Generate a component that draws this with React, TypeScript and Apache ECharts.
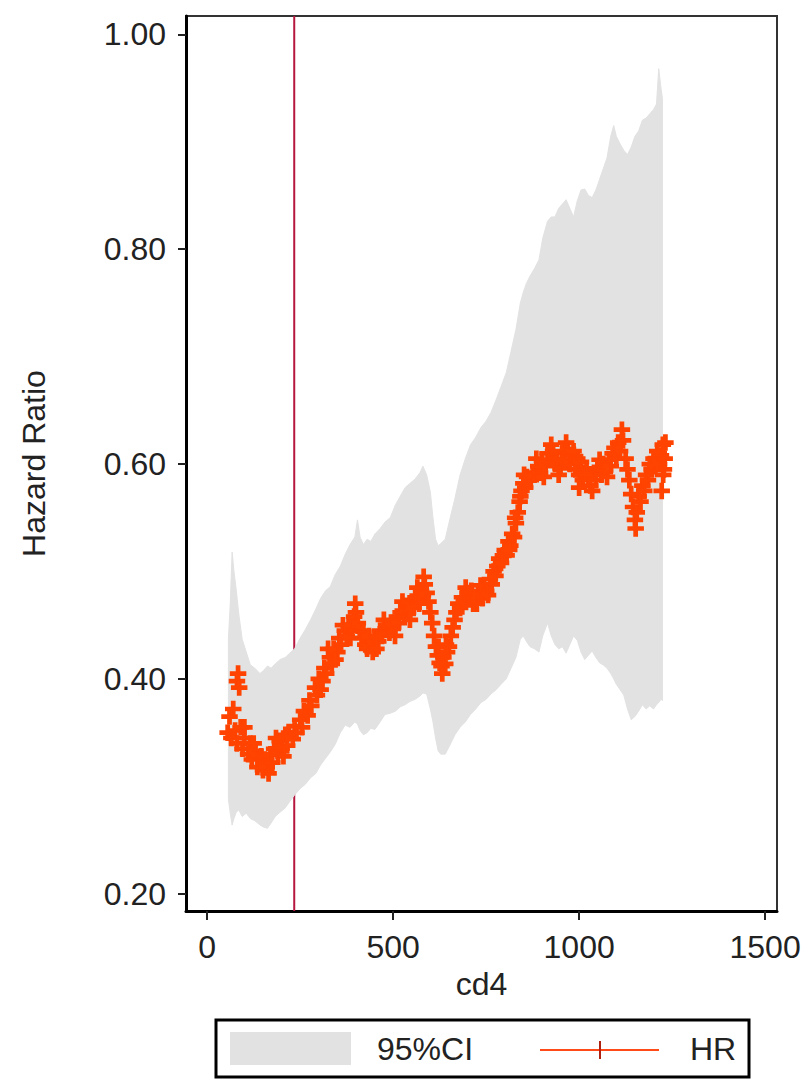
import React, { useEffect, useRef } from "react";
import * as echarts from "echarts";

// ---- Data ----
const xTicks = [0, 500, 1000, 1500];
const yTicks = [0.2, 0.4, 0.6, 0.8, 1.0];
const cutoffX = 234;

// 95% CI band: cd4 value, lower bound, upper bound
const ciX = [57, 62, 67, 72, 78, 85, 94, 105, 116, 128, 142, 152, 162, 172, 183, 196, 210, 222, 235, 250, 264, 278, 292, 305, 318, 331, 344, 358, 371, 384, 397, 404, 411, 420, 430, 440, 451, 465, 478, 492, 506, 519, 532, 545, 559, 572, 580, 590, 600, 607, 614, 621, 628, 640, 652, 666, 680, 694, 708, 722, 736, 750, 763, 777, 790, 804, 817, 830, 842, 850, 858, 868, 880, 892, 902, 915, 925, 935, 945, 955, 965, 975, 985, 995, 1005, 1015, 1025, 1035, 1045, 1055, 1065, 1075, 1085, 1093, 1100, 1110, 1120, 1130, 1140, 1150, 1160, 1170, 1180, 1190, 1200, 1208, 1214, 1220, 1224];
const ciLow = [0.288, 0.275, 0.264, 0.27, 0.276, 0.278, 0.272, 0.275, 0.27, 0.268, 0.264, 0.262, 0.261, 0.266, 0.272, 0.276, 0.28, 0.286, 0.292, 0.298, 0.302, 0.308, 0.312, 0.32, 0.326, 0.332, 0.339, 0.35, 0.357, 0.355, 0.36, 0.358, 0.352, 0.348, 0.35, 0.354, 0.353, 0.36, 0.367, 0.368, 0.37, 0.374, 0.376, 0.379, 0.381, 0.384, 0.387, 0.386, 0.372, 0.36, 0.345, 0.333, 0.33, 0.33, 0.338, 0.348, 0.355, 0.36, 0.367, 0.372, 0.378, 0.381, 0.386, 0.39, 0.395, 0.4, 0.41, 0.42, 0.437, 0.44, 0.435, 0.43, 0.428, 0.425, 0.44, 0.452, 0.44, 0.432, 0.428, 0.43, 0.424, 0.432, 0.44, 0.436, 0.425, 0.418, 0.422, 0.426, 0.42, 0.415, 0.413, 0.41, 0.405, 0.4, 0.395, 0.39, 0.385, 0.372, 0.362, 0.365, 0.37, 0.376, 0.372, 0.375, 0.372, 0.376, 0.378, 0.381, 0.38];
const ciHigh = [0.437, 0.47, 0.518, 0.5, 0.483, 0.46, 0.437, 0.425, 0.413, 0.41, 0.405, 0.408, 0.412, 0.41, 0.414, 0.418, 0.42, 0.424, 0.428, 0.438, 0.446, 0.455, 0.465, 0.475, 0.482, 0.486, 0.497, 0.505, 0.516, 0.525, 0.532, 0.548, 0.532, 0.525, 0.53, 0.528, 0.535, 0.54, 0.546, 0.55, 0.562, 0.57, 0.578, 0.582, 0.586, 0.592, 0.598, 0.59, 0.574, 0.55, 0.53, 0.524, 0.526, 0.53, 0.548, 0.568, 0.59, 0.605, 0.618, 0.625, 0.634, 0.64, 0.648, 0.66, 0.672, 0.685, 0.705, 0.725, 0.75, 0.76, 0.768, 0.775, 0.782, 0.79, 0.81, 0.826, 0.83, 0.83, 0.838, 0.842, 0.846, 0.838, 0.83, 0.845, 0.855, 0.856, 0.85, 0.848, 0.855, 0.865, 0.875, 0.885, 0.905, 0.915, 0.905, 0.898, 0.892, 0.888, 0.895, 0.905, 0.91, 0.92, 0.922, 0.926, 0.93, 0.935, 0.968, 0.95, 0.94];

// Hazard ratio estimates: cd4 value and HR
const hrX = [55, 60, 65, 70, 75, 80, 80, 83, 86, 90, 95, 100, 110, 115, 120, 130, 135, 140, 150, 155, 160, 170, 175, 180, 190, 195, 200, 210, 215, 220, 230, 235, 240, 250, 255, 260, 270, 275, 280, 290, 295, 300, 310, 315, 320, 330, 335, 340, 350, 355, 360, 370, 375, 380, 390, 395, 400, 405, 410, 415, 420, 425, 430, 440, 445, 450, 460, 465, 470, 480, 490, 495, 500, 510, 515, 520, 530, 535, 540, 550, 555, 560, 570, 575, 580, 585, 590, 595, 600, 605, 610, 615, 620, 625, 630, 635, 640, 645, 650, 655, 660, 665, 670, 675, 680, 685, 690, 700, 705, 710, 720, 725, 730, 740, 745, 750, 760, 765, 770, 780, 785, 790, 800, 805, 810, 815, 820, 825, 830, 835, 840, 845, 850, 855, 860, 870, 875, 880, 890, 895, 900, 910, 915, 920, 930, 935, 940, 950, 955, 960, 970, 975, 980, 990, 995, 1000, 1005, 1010, 1020, 1025, 1030, 1040, 1045, 1050, 1060, 1065, 1070, 1080, 1085, 1090, 1100, 1105, 1110, 1115, 1118, 1125, 1130, 1135, 1140, 1145, 1150, 1152, 1155, 1160, 1165, 1170, 1175, 1180, 1185, 1190, 1195, 1200, 1205, 1210, 1215, 1220, 1222, 1225, 1226, 1228, 1230, 1232,
  100, 125, 145, 165, 185, 205, 305, 325, 345, 365, 385, 398, 435, 455, 475, 505, 525, 545, 565, 582, 622, 632, 642, 695, 715, 735, 755, 775, 795, 812, 828, 842, 852, 885, 905, 925, 945, 965, 985, 1000, 1015, 1035, 1055, 1075, 1095];
const hrY = [0.35, 0.365, 0.345, 0.372, 0.352, 0.34, 0.398, 0.405, 0.392, 0.355, 0.335, 0.345, 0.33, 0.34, 0.325, 0.333, 0.318, 0.326, 0.315, 0.325, 0.318, 0.33, 0.322, 0.335, 0.33, 0.342, 0.335, 0.348, 0.338, 0.35, 0.344, 0.356, 0.35, 0.362, 0.355, 0.37, 0.366, 0.38, 0.375, 0.392, 0.385, 0.4, 0.398, 0.41, 0.405, 0.42, 0.414, 0.428, 0.425, 0.438, 0.432, 0.445, 0.44, 0.45, 0.448, 0.458, 0.462, 0.452, 0.445, 0.438, 0.444, 0.432, 0.428, 0.432, 0.425, 0.438, 0.435, 0.445, 0.44, 0.447, 0.443, 0.452, 0.448, 0.458, 0.452, 0.462, 0.458, 0.468, 0.462, 0.472, 0.466, 0.476, 0.47, 0.482, 0.478, 0.488, 0.48, 0.472, 0.462, 0.452, 0.44, 0.43, 0.422, 0.415, 0.412, 0.42, 0.414, 0.425, 0.43, 0.44, 0.448, 0.455, 0.462, 0.47, 0.466, 0.476, 0.472, 0.48, 0.474, 0.482, 0.476, 0.47, 0.478, 0.475, 0.486, 0.482, 0.493, 0.488, 0.5, 0.505, 0.512, 0.508, 0.52, 0.515, 0.528, 0.524, 0.535, 0.532, 0.545, 0.555, 0.565, 0.575, 0.582, 0.578, 0.588, 0.585, 0.592, 0.59, 0.598, 0.592, 0.603, 0.598, 0.61, 0.604, 0.612, 0.6, 0.605, 0.596, 0.61, 0.604, 0.614, 0.6, 0.608, 0.595, 0.605, 0.59, 0.602, 0.585, 0.596, 0.588, 0.58, 0.592, 0.585, 0.596, 0.59, 0.6, 0.594, 0.604, 0.598, 0.61, 0.605, 0.62, 0.612, 0.632, 0.622, 0.605, 0.595, 0.585, 0.572, 0.56, 0.548, 0.54, 0.555, 0.57, 0.565, 0.58, 0.575, 0.59, 0.585, 0.6, 0.595, 0.605, 0.598, 0.612, 0.6, 0.608, 0.575, 0.618, 0.59, 0.595, 0.605, 0.62,
  0.355, 0.34, 0.328, 0.312, 0.345, 0.328, 0.39, 0.428, 0.418, 0.45, 0.438, 0.47, 0.44, 0.428, 0.455, 0.44, 0.472, 0.455, 0.485, 0.495, 0.43, 0.405, 0.432, 0.485, 0.47, 0.487, 0.478, 0.496, 0.515, 0.52, 0.55, 0.57, 0.59, 0.605, 0.588, 0.618, 0.59, 0.62, 0.612, 0.578, 0.592, 0.575, 0.604, 0.588, 0.615];

const FONT = "'Liberation Sans', Arial, sans-serif";
const PLUS = "path://M5.5,0H8.5V5.5H14V8.5H8.5V14H5.5V8.5H0V5.5H5.5Z";

export default function App() {
  const ref = useRef<HTMLDivElement>(null);

  useEffect(() => {
    document.body.style.margin = "0";
    if (!ref.current) return;
    const chart = echarts.init(ref.current, undefined, { renderer: "svg" });

    const ciData = ciX.map((x, i) => [x, ciLow[i], ciHigh[i]]);
    const hrData = hrX.map((x, i) => [x, hrY[i]]);

    const option: any = {
      animation: false,
      backgroundColor: "#ffffff",
      textStyle: { fontFamily: FONT },
      grid: {
        left: 186,
        right: 33,
        top: 16,
        bottom: 169,
        show: true,
        borderColor: "#333",
        borderWidth: 2,
        backgroundColor: "#ffffff",
      },
      xAxis: {
        type: "value",
        min: -57,
        max: 1532,
        name: "cd4",
        nameLocation: "middle",
        nameGap: 50,
        nameTextStyle: { fontSize: 32, color: "#222", fontFamily: FONT },
        axisLine: { show: true, onZero: false, lineStyle: { color: "#000", width: 3 } },
        axisTick: { show: true, length: 9, customValues: xTicks, lineStyle: { color: "#222", width: 2 } },
        axisLabel: {
          customValues: xTicks,
          margin: 20,
          fontSize: 32,
          color: "#222",
          fontFamily: FONT,
          formatter: (v: number) => String(v),
        },
        splitLine: { show: false },
      },
      yAxis: {
        type: "value",
        min: 0.184,
        max: 1.017,
        name: "Hazard Ratio",
        nameLocation: "middle",
        nameGap: 136,
        nameTextStyle: { fontSize: 32, color: "#222", fontFamily: FONT },
        axisLine: { show: true, onZero: false, lineStyle: { color: "#000", width: 3 } },
        axisTick: { show: true, length: 8, customValues: yTicks, lineStyle: { color: "#222", width: 2 } },
        axisLabel: {
          customValues: yTicks,
          margin: 20,
          fontSize: 32,
          color: "#222",
          fontFamily: FONT,
          formatter: (v: number) => v.toFixed(2),
        },
        splitLine: { show: false },
      },
      series: [
        {
          type: "line",
          name: "cutoff",
          z: 1,
          data: [
            [cutoffX, 0.184],
            [cutoffX, 1.017],
          ],
          symbol: "none",
          lineStyle: { color: "#b5173f", width: 2 },
          silent: true,
        },
        {
          type: "custom",
          name: "95%CI",
          z: 2,
          data: ciData,
          encode: { x: 0, y: [1, 2] },
          renderItem: (params: any, api: any) => {
            if (params.dataIndex !== 0) return null;
            const pts: number[][] = [];
            for (let i = 0; i < ciX.length; i++) pts.push(api.coord([ciX[i], ciHigh[i]]));
            for (let i = ciX.length - 1; i >= 0; i--) pts.push(api.coord([ciX[i], ciLow[i]]));
            return {
              type: "polygon",
              shape: { points: pts },
              style: { fill: "#e2e2e2", stroke: "#e2e2e2", lineWidth: 1 },
            };
          },
          silent: true,
        },
        {
          type: "scatter",
          name: "HR",
          z: 3,
          data: hrData,
          symbol: PLUS,
          symbolSize: 15,
          itemStyle: { color: "#ff4300", borderColor: "#ff4300", borderWidth: 1.5, opacity: 1 },
          silent: true,
        },
      ],
      graphic: [
        {
          type: "rect",
          shape: { x: 216, y: 1020, width: 533, height: 57 },
          style: { fill: "#ffffff", stroke: "#000", lineWidth: 3 },
        },
        {
          type: "rect",
          shape: { x: 230, y: 1032, width: 121, height: 33 },
          style: { fill: "#e2e2e2" },
        },
        {
          type: "text",
          x: 377,
          y: 1049,
          style: { text: "95%CI", fontSize: 32, fontFamily: FONT, fill: "#222", verticalAlign: "middle", align: "left" },
        },
        {
          type: "line",
          shape: { x1: 540, y1: 1050, x2: 659, y2: 1050 },
          style: { stroke: "#ff4a1a", lineWidth: 2 },
        },
        {
          type: "line",
          shape: { x1: 600, y1: 1041, x2: 600, y2: 1059 },
          style: { stroke: "#b02010", lineWidth: 2 },
        },
        {
          type: "text",
          x: 690,
          y: 1049,
          style: { text: "HR", fontSize: 32, fontFamily: FONT, fill: "#222", verticalAlign: "middle", align: "left" },
        },
      ],
    };

    chart.setOption(option);
    return () => chart.dispose();
  }, []);

  return <div ref={ref} style={{ width: 810, height: 1080 }} />;
}
